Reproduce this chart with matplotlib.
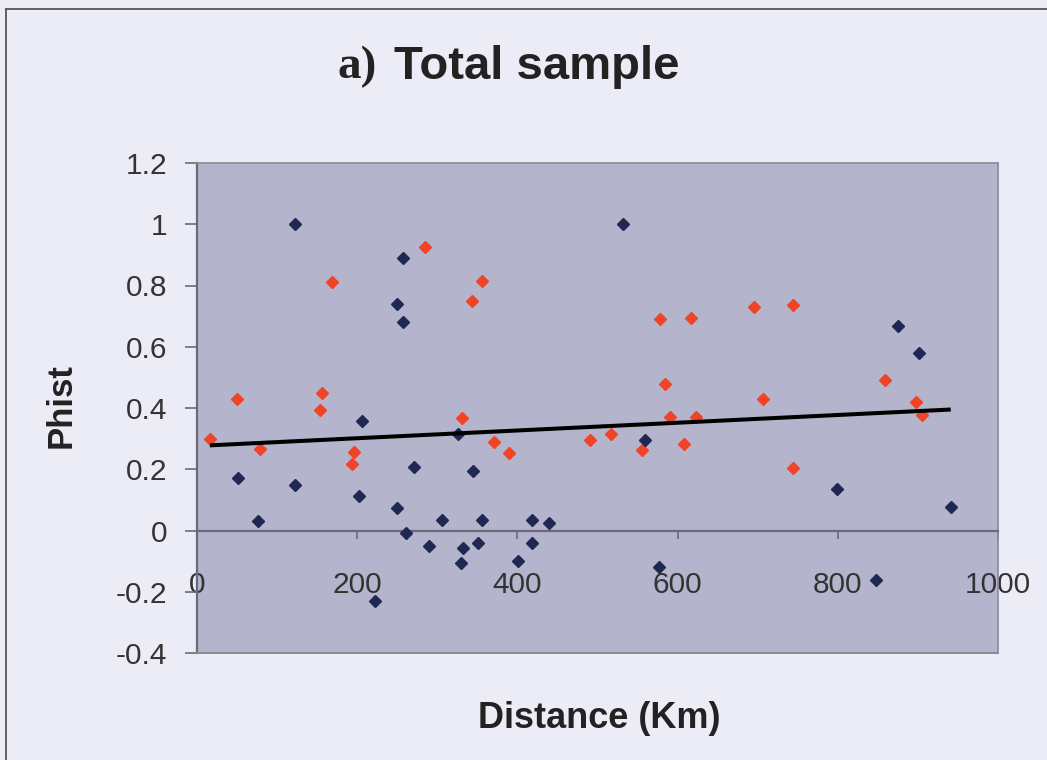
import matplotlib
matplotlib.use("Agg")
import matplotlib.pyplot as plt
from matplotlib.lines import Line2D

# red series (distance km, phist)
red_x = [16, 50, 79, 154, 156, 169, 193, 196, 285, 331, 343, 356, 371, 390,
         491, 517, 556, 578, 584, 591, 608, 617, 623, 695, 707, 744, 744,
         859, 898, 905]
red_y = [0.30, 0.428, 0.265, 0.395, 0.45, 0.81, 0.216, 0.255, 0.925, 0.366,
         0.748, 0.814, 0.288, 0.252, 0.294, 0.314, 0.264, 0.69, 0.48, 0.369,
         0.284, 0.693, 0.369, 0.729, 0.428, 0.735, 0.203, 0.49, 0.418, 0.376]

# blue series
blue_x = [51, 76, 122, 122, 202, 206, 222, 250, 250, 257, 257, 261, 271, 290,
          306, 326, 330, 332, 345, 351, 356, 401, 418, 418, 439, 532, 559,
          577, 799, 848, 875, 901, 941]
blue_y = [0.173, 0.03, 1.0, 0.15, 0.114, 0.356, -0.229, 0.74, 0.072, 0.889,
          0.68, -0.007, 0.206, -0.05, 0.033, 0.314, -0.105, -0.056, 0.195,
          -0.04, 0.033, -0.10, 0.033, -0.04, 0.026, 1.0, 0.297, -0.12, 0.134,
          -0.16, 0.667, 0.58, 0.078]

# linear trend
trend_intercept = 0.276
trend_slope = 0.0001265

x_ticks = [0, 200, 400, 600, 800, 1000]
y_ticks = [-0.4, -0.2, 0, 0.2, 0.4, 0.6, 0.8, 1, 1.2]

bg = "#ECECF6"
plot_bg = "#B4B4CD"

fig = plt.figure(figsize=(10.47, 7.6), dpi=100, facecolor=bg)
ax = fig.add_axes([197 / 1047, 1 - 653 / 760, 801 / 1047, 490 / 760])
ax.set_facecolor(plot_bg)

ax.plot(red_x, red_y, linestyle="none", marker="D", ms=6.2,
        color="#F04428", zorder=3)
ax.plot(blue_x, blue_y, linestyle="none", marker="D", ms=6.2,
        color="#1E2852", zorder=3)

all_x = red_x + blue_x
tx = [min(all_x), max(all_x)]
ty = [trend_intercept + trend_slope * v for v in tx]
ax.plot(tx, ty, color="black", lw=2.9, solid_capstyle="butt", zorder=4)

ax.set_xlim(0, 1000)
ax.set_ylim(-0.4, 1.2)

# x axis crosses at zero like in the spreadsheet chart
ax.spines["bottom"].set_position(("data", 0))
ax.spines["bottom"].set_color("#6A6A78")
ax.spines["bottom"].set_linewidth(1.6)
for side in ["top", "right"]:
    ax.spines[side].set_color("#8A8A98")
    ax.spines[side].set_linewidth(1.2)
ax.spines["left"].set_color("#6A6A78")
ax.spines["left"].set_linewidth(1.6)
ax.axhline(-0.4, color="#8A8A98", lw=1.4, clip_on=False, zorder=5)

ax.set_xticks(x_ticks)
ax.set_xticklabels([str(v) for v in x_ticks])
ax.set_yticks(y_ticks)
ax.set_yticklabels(["%g" % v for v in y_ticks])
ax.tick_params(axis="x", direction="out", length=6, width=1.2,
               color="#6A6A78", pad=23, labelsize=21.5, labelcolor="#333333")
ax.tick_params(axis="y", direction="out", length=8.5, width=1.2,
               color="#6A6A78", pad=13, labelsize=21.5, labelcolor="#333333")
for lab in ax.get_xticklabels() + ax.get_yticklabels():
    lab.set_family(["Liberation Sans", "DejaVu Sans"])

narrow = ["Liberation Sans Narrow", "Liberation Sans", "DejaVu Sans"]
fig.text(0.322, 0.912, "a)", fontsize=34, fontweight="bold",
         family=["Liberation Serif", "DejaVu Serif"], color="#222222",
         ha="left", va="center")
fig.text(0.376, 0.912, "Total sample", fontsize=34, fontweight="bold",
         family=narrow, color="#222222", ha="left", va="center")
fig.text(0.572, 0.055, "Distance (Km)", fontsize=26, fontweight="bold",
         family=narrow, color="#222222", ha="center", va="center")
fig.text(0.058, 0.467, "Phist", fontsize=25, fontweight="bold",
         family=["Liberation Sans", "DejaVu Sans"], color="#222222",
         rotation=90, ha="center", va="center")

# outer chart border (left and top edges visible)
fig.add_artist(Line2D([6 / 1047, 6 / 1047], [0, 1 - 9 / 760],
                      transform=fig.transFigure, color="#555555", lw=1.3))
fig.add_artist(Line2D([6 / 1047, 1], [1 - 9 / 760, 1 - 9 / 760],
                      transform=fig.transFigure, color="#555555", lw=1.3))

fig.savefig("out.png", dpi=100, facecolor=bg)
